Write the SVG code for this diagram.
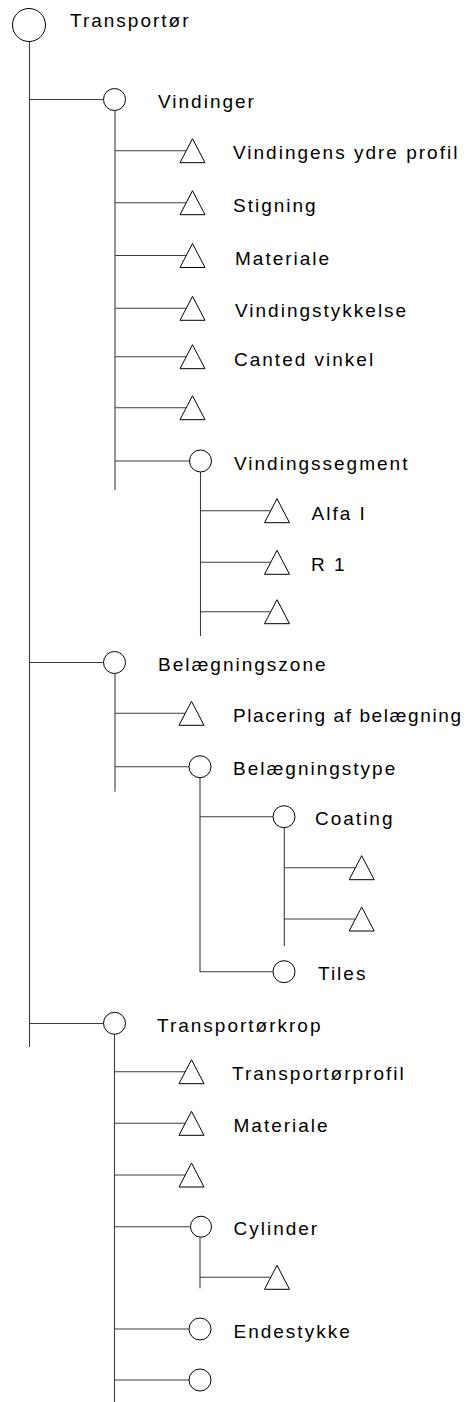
<svg xmlns="http://www.w3.org/2000/svg" width="474" height="1402" viewBox="0 0 474 1402">
<style>
.c{fill:#fff;stroke:#000;stroke-width:1}
.t{fill:#fff;stroke:#000;stroke-width:1;stroke-linejoin:miter}
.l{stroke:#3c3c3c;stroke-width:1.1;fill:none}
.x{font-family:"Liberation Sans",Arial,sans-serif;font-size:19px;letter-spacing:2px;fill:#000}
</style>
<defs>
<path id="tri" d="M0,-12 L12.5,12 L-12.5,12 Z"/>
</defs>
<rect width="474" height="1402" fill="#fff"/>
<g id="connectors">
<path class="l" d="M29.5,42 V1047"/>
<path class="l" d="M29.5,99.5 H103.5"/>
<path class="l" d="M29.5,662.5 H103.5"/>
<path class="l" d="M29.5,1023.5 H103.5"/>
<path class="l" d="M115,110.5 V490"/>
<path class="l" d="M115,150.7 H186"/>
<path class="l" d="M115,202.7 H186"/>
<path class="l" d="M115,255.5 H186"/>
<path class="l" d="M115,308.3 H186"/>
<path class="l" d="M115,356.7 H186"/>
<path class="l" d="M115,407.7 H186"/>
<path class="l" d="M115,461 H189.5"/>
<path class="l" d="M200.5,472 V636"/>
<path class="l" d="M200.5,510.7 H271"/>
<path class="l" d="M200.5,562.3 H271"/>
<path class="l" d="M200.5,611.7 H271"/>
<path class="l" d="M115,673.5 V791.7"/>
<path class="l" d="M115,713.3 H186"/>
<path class="l" d="M115,766.7 H189"/>
<path class="l" d="M200,777.7 V971.7 H273"/>
<path class="l" d="M200,816.7 H273"/>
<path class="l" d="M284.3,827.7 V946"/>
<path class="l" d="M284.3,867.7 H355.5"/>
<path class="l" d="M284.3,919 H355.5"/>
<path class="l" d="M114.5,1034.5 V1402"/>
<path class="l" d="M114.5,1071.7 H186"/>
<path class="l" d="M114.5,1123.3 H186"/>
<path class="l" d="M114.5,1175 H186"/>
<path class="l" d="M114.5,1226.7 H190.5"/>
<path class="l" d="M114.5,1329 H189"/>
<path class="l" d="M114.5,1380 H189"/>
<path class="l" d="M200,1237.5 V1288.3"/>
<path class="l" d="M200,1277.3 H271"/>
</g>
<g id="n-transportor"><circle class="c" cx="29" cy="25" r="16.5"/><text class="x" x="70" y="27">Transportør</text></g>
<g id="n-vindinger"><circle class="c" cx="114.5" cy="99.5" r="11"/><text class="x" x="158" y="107.5">Vindinger</text></g>
<g id="n-ydre-profil"><use href="#tri" class="t" x="192.5" y="150.7"/><text class="x" x="233" y="159.3">Vindingens ydre profil</text></g>
<g id="n-stigning"><use href="#tri" class="t" x="192.5" y="202.7"/><text class="x" x="233" y="211.5">Stigning</text></g>
<g id="n-materiale1"><use href="#tri" class="t" x="192.5" y="255.5"/><text class="x" x="235" y="264.5">Materiale</text></g>
<g id="n-vindingstykkelse"><use href="#tri" class="t" x="192.5" y="308.3"/><text class="x" x="235" y="317">Vindingstykkelse</text></g>
<g id="n-canted"><use href="#tri" class="t" x="192.5" y="356.7"/><text class="x" x="234" y="365.5">Canted vinkel</text></g>
<g id="n-tri-empty1"><use href="#tri" class="t" x="192.5" y="407.7"/></g>
<g id="n-vindingssegment"><circle class="c" cx="200.5" cy="461" r="11"/><text class="x" x="234" y="469.5">Vindingssegment</text></g>
<g id="n-alfa"><use href="#tri" class="t" x="277" y="510.7"/><text class="x" x="311.5" y="519.5">Alfa I</text></g>
<g id="n-r1"><use href="#tri" class="t" x="277" y="562.3"/><text class="x" x="311" y="571">R 1</text></g>
<g id="n-tri-empty2"><use href="#tri" class="t" x="277" y="611.7"/></g>
<g id="n-belaegningszone"><circle class="c" cx="114.5" cy="662.5" r="11"/><text class="x" x="158" y="670.5">Belægningszone</text></g>
<g id="n-placering"><use href="#tri" class="t" x="191.5" y="713.3"/><text class="x" x="233" y="722" style="letter-spacing:1.6px">Placering af belægning</text></g>
<g id="n-belaegningstype"><circle class="c" cx="200" cy="766.7" r="11"/><text class="x" x="233" y="775">Belægningstype</text></g>
<g id="n-coating"><circle class="c" cx="284" cy="816.7" r="11"/><text class="x" x="315" y="825">Coating</text></g>
<g id="n-tri-empty3"><use href="#tri" class="t" x="361.7" y="867.7"/></g>
<g id="n-tri-empty4"><use href="#tri" class="t" x="361.7" y="919"/></g>
<g id="n-tiles"><circle class="c" cx="284" cy="971.7" r="11"/><text class="x" x="318" y="980">Tiles</text></g>
<g id="n-transportorkrop"><circle class="c" cx="114.5" cy="1023.3" r="11"/><text class="x" x="157" y="1031.7">Transportørkrop</text></g>
<g id="n-transportorprofil"><use href="#tri" class="t" x="191.5" y="1071.7"/><text class="x" x="232" y="1080">Transportørprofil</text></g>
<g id="n-materiale2"><use href="#tri" class="t" x="191.5" y="1123.3"/><text class="x" x="233.5" y="1132">Materiale</text></g>
<g id="n-tri-empty5"><use href="#tri" class="t" x="191.5" y="1175"/></g>
<g id="n-cylinder"><circle class="c" cx="201" cy="1226.7" r="10.5"/><text class="x" x="233.5" y="1235">Cylinder</text></g>
<g id="n-tri-empty6"><use href="#tri" class="t" x="277" y="1277.3"/></g>
<g id="n-endestykke"><circle class="c" cx="200" cy="1329" r="11"/><text class="x" x="233.5" y="1337.5">Endestykke</text></g>
<g id="n-circle-empty"><circle class="c" cx="200" cy="1380" r="11"/></g>
</svg>
